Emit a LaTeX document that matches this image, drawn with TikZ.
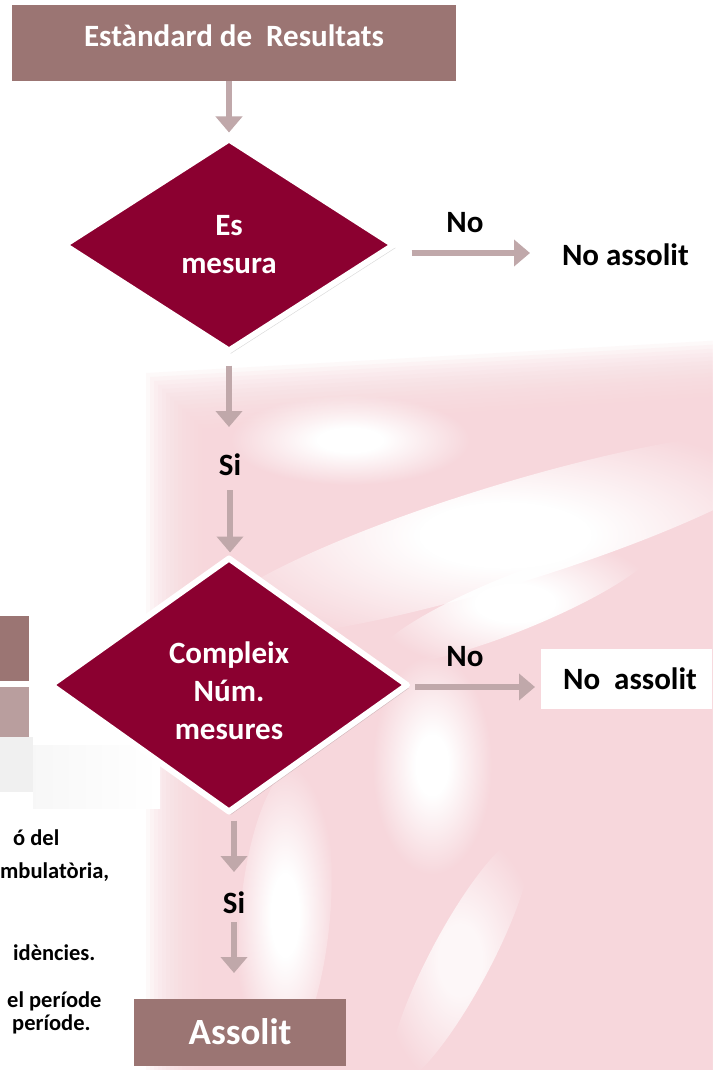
\documentclass[tikz,border=0pt]{standalone}
\usepackage{fontspec}
\setmainfont{Carlito}
\usetikzlibrary{shapes.geometric, arrows.meta, calc, shadows, fadings}
\definecolor{boxc}{RGB}{155,117,115}
\definecolor{boxl}{RGB}{185,158,158}
\definecolor{diac}{RGB}{139,0,48}
\definecolor{arrc}{RGB}{192,168,170}
\definecolor{wmc}{RGB}{247,215,220}
\pgfdeclareradialshading{platsh}{\pgfpointorigin}{color(0bp)=(white); color(7bp)=(white); color(25bp)=(black); color(50bp)=(black)}
\pgfdeclarefading{plat}{\pgfuseshading{platsh}}
\begin{document}
\begin{tikzpicture}[x=1pt,y=-1pt,
  flowbox/.style={fill=boxc, text=white, font=\bfseries\fontsize{31}{38}\selectfont, inner sep=0pt, outer sep=0pt},
  dec/.style={diamond, fill=diac, draw=white, line width=6pt, line join=round, inner sep=0pt, outer sep=0pt,
    drop shadow={shadow xshift=2pt, shadow yshift=-3pt, opacity=0.15, fill=black}},
  dectext/.style={text=white, align=center, font=\bfseries\fontsize{31}{38}\selectfont, inner sep=0pt},
  lbl/.style={font=\bfseries\fontsize{31}{38}\selectfont, inner sep=0pt, outer sep=0pt},
  side/.style={font=\bfseries\fontsize{22.5}{24}\selectfont, inner sep=0pt, anchor=base west},
  flow/.style={draw=arrc, line width=6pt, -{Triangle[width=26pt,length=16pt]}},
  streak/.style={fill=white, path fading=plat, fit fading=true},
]
\useasboundingbox (0,0) rectangle (712,1070);
\fill[white] (0,0) rectangle (712,1070);

% faint watermark (soft edges from nested layers)
\foreach \d in {-32,-28,...,32}
  \fill[wmc, opacity=0.15] (178+\d,1090) -- (178+\d,405+\d) -- (725,372+\d) -- (725,1090) -- cycle;
\fill[streak] (350,440) ellipse [x radius=120, y radius=45];
\fill[streak, rotate around={17:(505,535)}] (505,535) ellipse [x radius=310, y radius=50];
\fill[streak, rotate around={22:(515,603)}] (515,603) ellipse [x radius=150, y radius=28];
\fill[streak] (432,765) ellipse [x radius=60, y radius=110];
\fill[streak, rotate around={-5:(285,915)}] (285,915) ellipse [x radius=45, y radius=150];
\fill[streak, opacity=0.8, rotate around={-28:(460,960)}] (460,960) ellipse [x radius=30, y radius=140];

% left fragments
\fill[boxc] (0,616) rectangle (29,681);
\fill[boxl] (0,687) rectangle (29,737);
\fill[black!6] (0,737) rectangle (33,792);
\shade[left color=black!3, right color=white] (33,745) rectangle (160,808);

\node[side] (t1) at (13,845) {ó del};
\node[side] (t2) at (0,878) {mbulatòria,};
\node[side] (t3) at (13,960) {idències.};
\node[side] (t4) at (7,1007) {el període};
\node[side] (t5) at (12,1030) {període.};

% flow nodes
\node[flowbox, minimum width=444pt, minimum height=76pt, text height=20pt, text depth=12pt] (top) at (234,43) {Estàndard de\ \ Resultats};
\node[dec, minimum width=329pt, minimum height=211pt] (d1) at (229,245) {};
\node[dectext] (d1t) at (d1.center) {Es\\mesura};
\node[lbl] (no1) at (465,223) {No};
\node[lbl, anchor=west] (na1) at (562,255) {No assolit};
\node[lbl] (si1) at (230,465) {Si};
\node[dec, minimum width=356pt, minimum height=253pt] (d2) at (229,685) {};
\node[dectext] (d2t) at ($(d2.center)+(0,6)$) {Compleix\\Núm.\\mesures};
\node[lbl] (no2) at (465,657) {No};
\node[lbl, fill=white, minimum width=171pt, minimum height=60pt] (nb2) at (626.5,679) {\hspace*{7pt}No\ \ assolit};
\node[lbl] (si2) at (234,903) {Si};
\node[flowbox, font=\bfseries\fontsize{37}{40}\selectfont, minimum width=212pt, minimum height=67pt, text height=23.4pt, text depth=0pt] (ass) at (240,1032.5) {Assolit};

% connectors
\coordinate (a1s) at (top.south -| d1.north);
\coordinate (a1e) at ($(d1.north)+(0,-7)$);
\draw[flow] (a1s) -- (a1e);

\coordinate (a2s) at ($(d1.east)+(18,8)$);
\draw[flow, shorten >=32pt] (a2s) -- (a2s -| na1.west);

\coordinate (a3s) at ($(d1.south)+(0,15)$);
\coordinate (a3e) at ($(si1.center)+(0,-38)$);
\draw[flow] (a3s) -- (a3s |- a3e);
\coordinate (a4s) at ($(si1.center)+(0,25)$);
\coordinate (a4e) at ($(d2.north)+(0,-6)$);
\draw[flow] (a4s) -- (a4s |- a4e);

\coordinate (a5s) at ($(d2.east)+(8,2)$);
\draw[flow, shorten >=6pt] (a5s) -- (a5s -| nb2.west);

\coordinate (a6s) at ($(d2.south -| si2.center)+(0,9)$);
\coordinate (a6e) at ($(si2.center)+(0,-31)$);
\draw[flow] (a6s) -- (a6e);
\coordinate (a7s) at ($(si2.center)+(0,19)$);
\coordinate (a7e) at ($(ass.north -| si2.center)+(0,-26)$);
\draw[flow] (a7s) -- (a7e);
\end{tikzpicture}
\end{document}
